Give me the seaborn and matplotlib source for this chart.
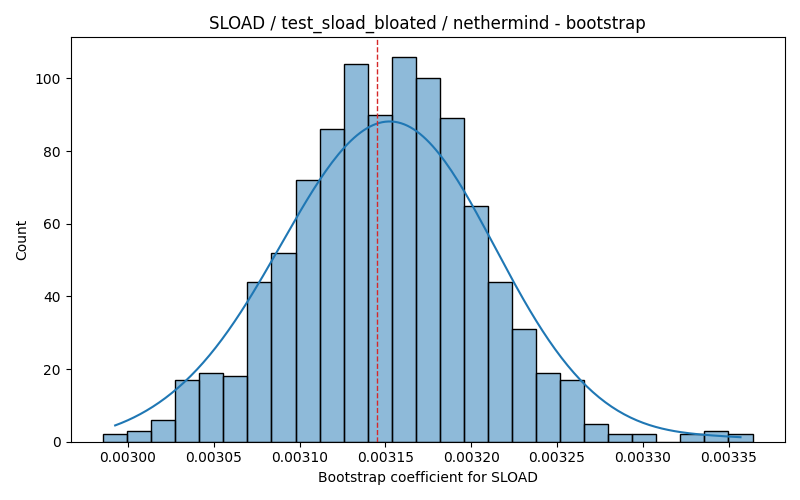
import numpy as np
import pandas as pd
import matplotlib
matplotlib.use("Agg")
import matplotlib.pyplot as plt
import seaborn as sns

# Histogram of bootstrap coefficients
bin_lo = 0.0029855
bin_hi = 0.0033640
counts = [2, 3, 6, 17, 19, 18, 44, 52, 72, 86, 104, 90, 106, 100, 89,
          65, 44, 31, 19, 17, 5, 2, 2, 0, 2, 3, 2]
mean_value = 0.003145

edges = np.linspace(bin_lo, bin_hi, len(counts) + 1)
centers = (edges[:-1] + edges[1:]) / 2
df = pd.DataFrame({"coef": centers, "n": counts})

fig, ax = plt.subplots(figsize=(8, 5), dpi=100)
sns.histplot(data=df, x="coef", weights="n", bins=len(counts),
             binrange=(bin_lo, bin_hi), kde=True, ax=ax)
ax.axvline(mean_value, color="tab:red", linestyle="--", linewidth=1)
ax.set_title("SLOAD / test_sload_bloated / nethermind - bootstrap")
ax.set_xlabel("Bootstrap coefficient for SLOAD")
ax.set_ylabel("Count")
plt.tight_layout()
plt.savefig("out.png")
